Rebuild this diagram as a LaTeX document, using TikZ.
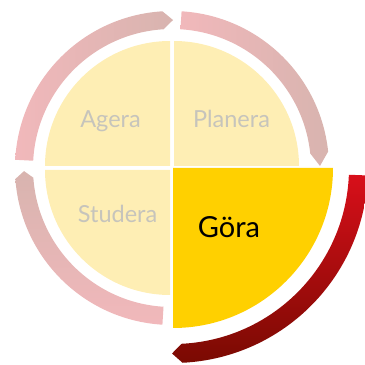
\documentclass[tikz,border=0pt]{standalone}
\usepackage{fontspec}
\setmainfont{Lato}
\definecolor{paleY}{HTML}{FEEEB4}
\definecolor{goraY}{HTML}{FFD000}
\definecolor{ringPink}{HTML}{F1B8BB}
\definecolor{ringGrey}{HTML}{D8B4AF}
\definecolor{redBright}{HTML}{D80F1A}
\definecolor{redDark}{HTML}{7A0A02}
\definecolor{labelGrey}{HTML}{C6C4BC}
\tikzset{
  palelabel/.style={font=\fontsize{23.5}{25}\selectfont, text=labelGrey, anchor=base, inner sep=0pt},
  goralabel/.style={font=\fontsize{29}{31}\selectfont, text=black, anchor=base, inner sep=0pt},
}
\begin{document}
\begin{tikzpicture}[x=1pt,y=1pt]
\useasboundingbox (0,0) rectangle (365,365);
% quadrants
\fill[paleY] (170,199) -- ++(180:125) arc[start angle=180,end angle=90,radius=125] -- cycle;
\fill[paleY] (174,199) -- ++(90:125) arc[start angle=90,end angle=0,radius=125] -- cycle;
\fill[paleY] (170,195) -- ++(180:125) arc[start angle=180,end angle=270,radius=125] -- cycle;
\fill[goraY] (173,197) -- ++(0:160) arc[start angle=0,end angle=-90,radius=160] -- cycle;
% pale ring arcs
\begin{scope}[shift={(172,197)}]
\shade[left color=ringPink, right color=ringGrey]
  (177:157) arc[start angle=177,end angle=93.5,radius=157] -- (89.6:148)
  -- (93.5:139) arc[start angle=93.5,end angle=177,radius=139] -- cycle;
\shade[left color=ringPink, right color=ringGrey]
  (86.5:157) arc[start angle=86.5,end angle=6,radius=157] -- (0.8:148)
  -- (6:139) arc[start angle=6,end angle=86.5,radius=139] -- cycle;
\shade[top color=ringGrey, bottom color=ringPink]
  (181.2:148) -- (184:157) arc[start angle=184,end angle=266.5,radius=157]
  -- (266.5:139) arc[start angle=266.5,end angle=184,radius=139] -- cycle;
\end{scope}
% red arc
\begin{scope}[shift={(173,197)}]
\shade[shading angle=30, top color=redBright, bottom color=redDark]
  (-2.2:195) arc[start angle=-2.2,end angle=-87.2,radius=195] -- (-90.3:185.5)
  -- (-87.2:176) arc[start angle=-87.2,end angle=-2.2,radius=176] -- cycle;
\end{scope}
% labels
\node[palelabel] (agera) at (110.5,237) {Agera};
\node[palelabel] (planera) at (231.5,237) {Planera};
\node[palelabel] (studera) at (117.5,142) {Studera};
\node[goralabel] (gora) at (229,127) {Göra};
\end{tikzpicture}
\end{document}
